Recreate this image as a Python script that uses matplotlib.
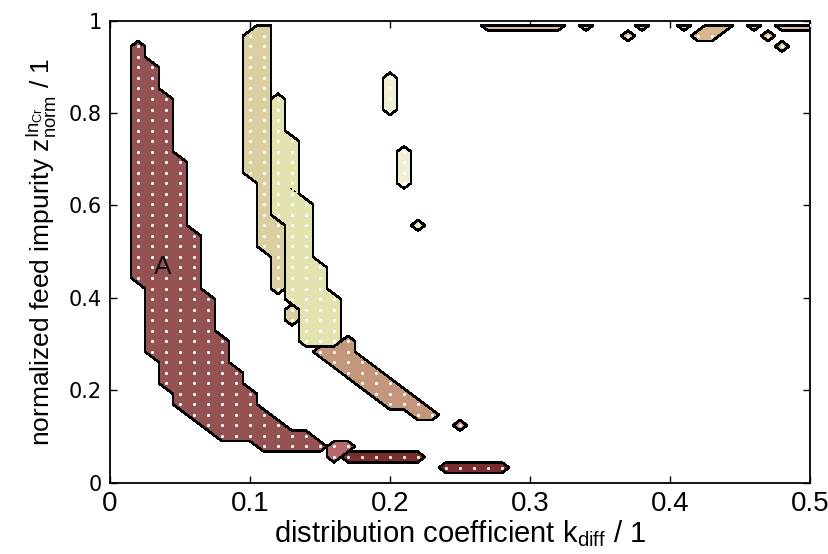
import numpy as np
import matplotlib
matplotlib.use('Agg')
import matplotlib.pyplot as plt
from matplotlib import font_manager

# ---------------- data (grid indices of the filled grid points) ----------------
x_grid = np.round(np.arange(51) * 0.01, 2)          # distribution coefficient grid
y_grid = np.linspace(0.01, 0.99, 44)                # normalized feed impurity grid

# region A (dark red)
A_cols = [2, 3, 4, 5, 6, 7, 8, 9, 10, 11, 12, 13, 14, 15]
A_lo   = [19, 12, 9, 7, 6, 5, 4, 4, 4, 3, 3, 3, 3, 3]
A_hi   = [41, 39, 36, 30, 23, 17, 13, 10, 8, 6, 5, 4, 4, 3]
# region B (tan)
B_cols = [10, 11, 12, 13]
B_lo   = [29, 22, 18, 15]
B_hi   = [42, 43, 24, 16]
# region C (light yellow-green)
C_cols = [12, 13, 14, 15, 16, 22]
C_lo   = [25, 17, 13, 13, 13, 24]
C_hi   = [36, 32, 26, 20, 17, 24]
# region G (pale yellow islands)
G_cols = [20, 21]
G_lo   = [35, 28]
G_hi   = [38, 31]
# region D (salmon brown)
D_cols = [15, 16, 17, 18, 19, 20, 21, 22, 23, 25]
D_lo   = [12, 11, 10, 9, 8, 7, 7, 6, 6, 5]
D_hi   = [12, 12, 13, 11, 10, 9, 8, 7, 6, 5]
# region E (pink red)
E_cols = [16, 17]
E_lo   = [2, 3]
E_hi   = [3, 3]
# region F (maroon bands)
F_cols = [17, 18, 19, 20, 21, 22, 24, 25, 26, 27, 28]
F_lo   = [2, 2, 2, 2, 2, 2, 1, 1, 1, 1, 1]
F_hi   = [2, 2, 2, 2, 2, 2, 1, 1, 1, 1, 1]
# region H (top strips)
H_cols = [27, 28, 29, 30, 31, 32, 34, 37, 38, 41, 42, 43, 44, 46, 47, 48, 48, 49, 50]
H_lo   = [43, 43, 43, 43, 43, 43, 43, 42, 43, 43, 42, 42, 43, 43, 42, 41, 43, 43, 43]
H_hi   = [43, 43, 43, 43, 43, 43, 43, 42, 43, 43, 42, 43, 43, 43, 42, 41, 43, 43, 43]

region_colors = ['#955252', '#D9CFA0', '#E3E3B0', '#F1F0D7', '#C4967B',
                 '#B86A6A', '#7A2D2D', '#D6B78F']

x_ticks = [0, 0.1, 0.2, 0.3, 0.4, 0.5]
x_ticklabels = ['0', '0.1', '0.2', '0.3', '0.4', '0.5']
y_ticks = [0, 0.2, 0.4, 0.6, 0.8, 1]
y_ticklabels = ['0', '0.2', '0.4', '0.6', '0.8', '1']

# ---------------- fonts ----------------
def has_font(name):
    try:
        font_manager.findfont(name, fallback_to_default=False)
        return True
    except Exception:
        return False

narrow = 'Liberation Sans Narrow' if has_font('Liberation Sans Narrow') else 'Liberation Sans'
plt.rcParams['mathtext.fontset'] = 'custom'
plt.rcParams['mathtext.rm'] = narrow
plt.rcParams['mathtext.it'] = narrow
plt.rcParams['mathtext.sf'] = narrow

# ---------------- plot ----------------
W, H = 829, 554
fig = plt.figure(figsize=(W / 100, H / 100), dpi=100)
ax = fig.add_axes([110 / W, 1 - 482.7 / H, 700 / W, 462 / H])
X, Y = np.meshgrid(x_grid, y_grid)


def build(cols, lo, hi):
    Z = np.zeros_like(X)
    for c, a, b in zip(cols, lo, hi):
        Z[a:b + 1, c] = 1.0
    return Z


regions = [(A_cols, A_lo, A_hi), (B_cols, B_lo, B_hi), (C_cols, C_lo, C_hi),
           (G_cols, G_lo, G_hi), (D_cols, D_lo, D_hi), (E_cols, E_lo, E_hi),
           (F_cols, F_lo, F_hi), (H_cols, H_lo, H_hi)]

for i, ((cols, lo, hi), col) in enumerate(zip(regions, region_colors)):
    Z = build(cols, lo, hi)
    z0 = 2 + 3 * i
    ax.contourf(X, Y, Z, levels=[0.5, 1.5], colors=[col], zorder=z0)
    m = Z > 0.5
    ax.scatter(X[m], Y[m], s=5, c='white', linewidths=0, zorder=z0 + 1)
    ce = ax.contourf(X, Y, Z, levels=[0.5, 1.5], colors=[col], zorder=z0 + 2)
    ce.set_facecolor('none')
    ce.set_edgecolor('black')
    ce.set_linewidth(1.1)

ax.text(0.038, 0.466, 'A', fontsize=19, family='Liberation Sans', color='#111111',
        ha='center', va='center', zorder=40)

ax.set_xlim(0, 0.5)
ax.set_ylim(0, 1)
ax.set_xticks(x_ticks)
ax.set_xticklabels(x_ticklabels, family=narrow, fontsize=20)
ax.set_yticks(y_ticks)
ax.set_yticklabels(y_ticklabels, family='DejaVu Sans', fontsize=15)
ax.tick_params(direction='in', top=True, right=True, length=5, width=1, pad=6)
for s in ax.spines.values():
    s.set_linewidth(1.3)

ax.set_xlabel(r'distribution coefficient k$_{\mathrm{diff}}$ / 1', family=narrow,
              fontsize=21, labelpad=1)
ax.set_ylabel(r'normalized feed impurity z$^{\mathrm{In}_{\mathrm{Cr}}}_{\mathrm{norm}}$ / 1',
              family=narrow, fontsize=19, labelpad=6)

fig.savefig('out.png', dpi=100)
